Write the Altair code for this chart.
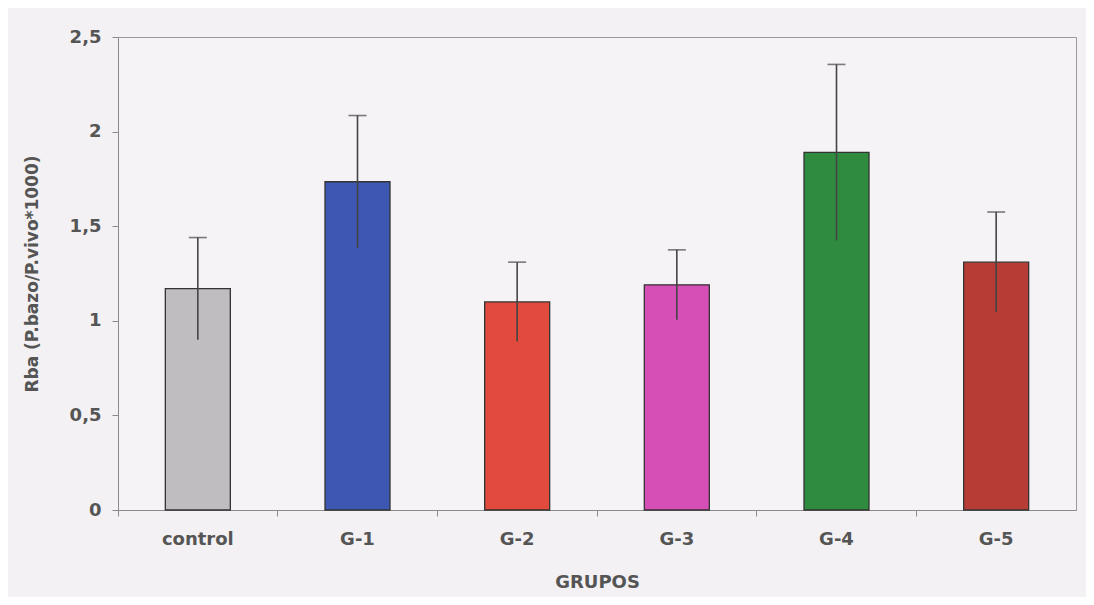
import altair as alt
import pandas as pd

groups = ["control", "G-1", "G-2", "G-3", "G-4", "G-5"]
means = [1.17, 1.735, 1.10, 1.19, 1.89, 1.31]
errors = [0.27, 0.35, 0.21, 0.185, 0.465, 0.265]
colors = ["#bfbdbf", "#3d57b3", "#e14a3d", "#d64fb6", "#2f8b3e", "#b73c36"]
y_ticks = [0, 0.5, 1, 1.5, 2, 2.5]

df = pd.DataFrame({"grupo": groups, "media": means, "err": errors})
df["lo"] = df["media"] - df["err"]
df["hi"] = df["media"] + df["err"]

FONT = "DejaVu Sans"
TXT = "#555555"
AX = "#8a8a8a"
YTITLE = "Rba (P.bazo/P.vivo*1000)"

x_enc = alt.X(
    "grupo:N",
    sort=groups,
    scale=alt.Scale(paddingInner=0, paddingOuter=0),
    axis=alt.Axis(
        title="GRUPOS",
        labelAngle=0,
        bandPosition=0,
        tickSize=6,
        labelPadding=14,
        labelFont=FONT,
        labelFontSize=18,
        labelFontWeight="bold",
        labelColor=TXT,
        titleFont=FONT,
        titleFontSize=18,
        titleFontWeight="bold",
        titleColor=TXT,
        titleY=72,
        titleBaseline="middle",
        domainColor=AX,
        tickColor=AX,
        grid=False,
    ),
)

y_enc = alt.Y(
    "media:Q",
    scale=alt.Scale(domain=[0, 2.5], nice=False),
    axis=alt.Axis(
        values=y_ticks,
        labelExpr="replace(format(datum.value, '~g'), '.', ',')",
        title=YTITLE,
        grid=False,
        tickSize=6,
        labelPadding=11,
        labelFont=FONT,
        labelFontSize=18,
        labelFontWeight="bold",
        labelColor=TXT,
        titleFont=FONT,
        titleFontSize=17,
        titleFontWeight="bold",
        titleColor=TXT,
        titleX=-86,
        titleBaseline="middle",
        domainColor=AX,
        tickColor=AX,
    ),
)

color_enc = alt.Color(
    "grupo:N", scale=alt.Scale(domain=groups, range=colors), legend=None
)

bars = alt.Chart(df).mark_bar(size=65, stroke="#333333", strokeWidth=1.3).encode(
    x=x_enc, y=y_enc, color=color_enc
)

rules = alt.Chart(df).mark_rule(color="#444444", strokeWidth=1.6).encode(
    x=alt.X("grupo:N", sort=groups),
    y=alt.Y("lo:Q", title=YTITLE),
    y2="hi:Q",
)

caps = alt.Chart(df).mark_tick(
    color="#444444", thickness=1.6, size=18, orient="horizontal"
).encode(
    x=alt.X("grupo:N", sort=groups),
    y=alt.Y("hi:Q", title=YTITLE),
)

chart = (
    alt.layer(bars, rules, caps)
    .properties(
        width=958,
        height=473,
        autosize=alt.AutoSizeParams(type="none"),
        padding={"left": 110, "top": 29, "right": 10, "bottom": 87},
        background="#f3f1f3",
    )
    .configure_view(stroke="#9a9a9a", fill="#f5f3f5")
)

chart.save("out.html", embed_options={"renderer": "svg", "actions": False})
